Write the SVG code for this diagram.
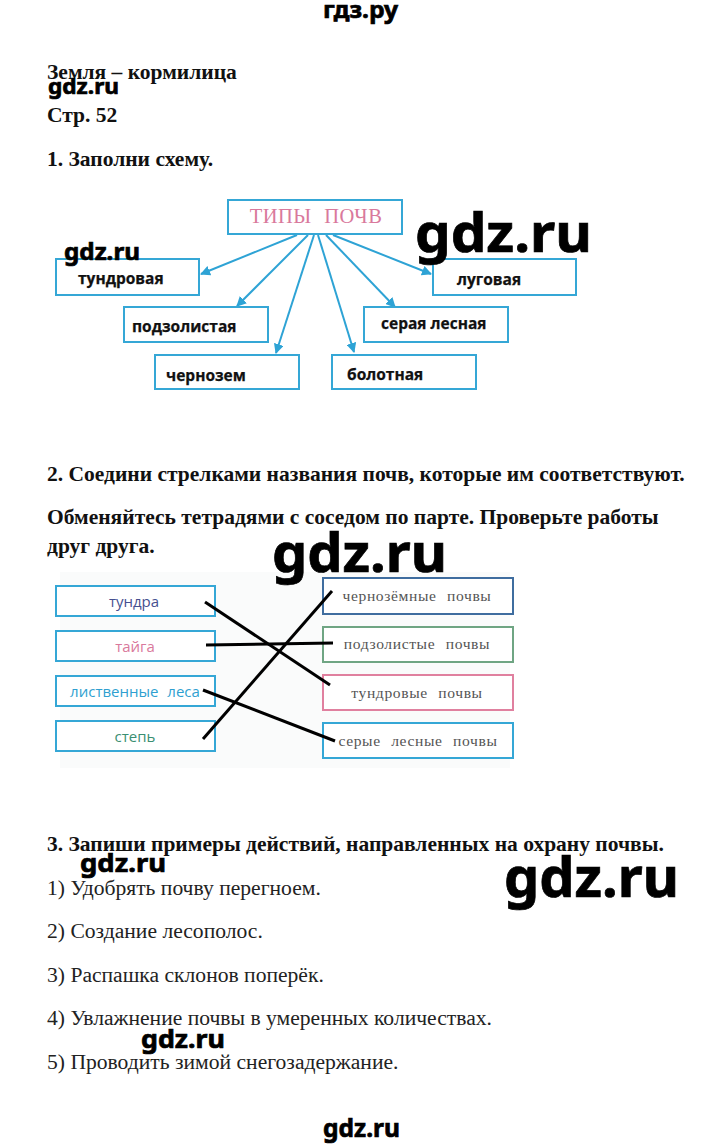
<svg xmlns="http://www.w3.org/2000/svg" width="720" height="1147" viewBox="0 0 720 1147">
<style>
.h{font:bold 21.5px "Liberation Serif",serif;fill:#111}
.p{font:21.6px "Liberation Serif",serif;fill:#222}
.w{font-family:"Noto Sans","DejaVu Sans",sans-serif;font-weight:700;fill:#000;stroke:#000;stroke-width:.7}
.b1{fill:#fff;stroke:#35a7d6;stroke-width:2}
.t1{font:bold 15.5px "Open Sans","Noto Sans",sans-serif;fill:#111;stroke:#111;stroke-width:.25}
.t2{font:15px "Open Sans","Noto Sans",sans-serif;text-anchor:middle}
.t3{font:15.6px "Liberation Serif",serif;fill:#555;text-anchor:middle;word-spacing:6px;letter-spacing:.6px}
.a{stroke:#2ea3d5;stroke-width:2;fill:none;marker-end:url(#ah)}
.l{stroke:#000;stroke-width:3;fill:none}
</style>
<defs><marker id="ah" viewBox="0 0 10 10" refX="9" refY="5" markerWidth="10" markerHeight="10" orient="auto" markerUnits="userSpaceOnUse"><path d="M0 0L10 5L0 10Z" fill="#2ea3d5"/></marker></defs>
<rect width="720" height="1147" fill="#fff"/>
<rect x="60" y="572" width="450" height="196" fill="#fafbfb"/>
<g id="page-text">
<text class="w" x="323" y="18" font-size="24" textLength="75" lengthAdjust="spacingAndGlyphs">гдз.ру</text>
<text class="h" x="47" y="79">Земля – кормилица</text>
<text class="h" x="47" y="122">Стр. 52</text>
<text class="h" x="47" y="166">1. Заполни схему.</text>
<text class="h" x="47" y="481">2. Соедини стрелками названия почв, которые им соответствуют.</text>
<text class="h" x="47" y="524">Обменяйтесь тетрадями с соседом по парте. Проверьте работы</text>
<text class="h" x="47" y="553">друг друга.</text>
<text class="h" x="47" y="851">3. Запиши примеры действий, направленных на охрану почвы.</text>
<text class="p" x="47" y="895">1) Удобрять почву перегноем.</text>
<text class="p" x="47" y="938">2) Создание лесополос.</text>
<text class="p" x="47" y="982">3) Распашка склонов поперёк.</text>
<text class="p" x="47" y="1025">4) Увлажнение почвы в умеренных количествах.</text>
<text class="p" x="47" y="1069">5) Проводить зимой снегозадержание.</text>
</g>
<g id="type-connectors">
<line class="a" x1="297" y1="235" x2="201" y2="274"/>
<line class="a" x1="308" y1="235" x2="237" y2="306"/>
<line class="a" x1="314" y1="235" x2="276" y2="353"/>
<line class="a" x1="318" y1="235" x2="354" y2="352"/>
<line class="a" x1="326" y1="235" x2="395" y2="307"/>
<line class="a" x1="333" y1="235" x2="431" y2="274"/>
</g>
<g id="types"><rect class="b1" x="228" y="200" width="174" height="34"/><text x="316" y="223" font-family="Liberation Serif,serif" font-size="20.500" fill="#d9799c" text-anchor="middle" word-spacing="7" letter-spacing=".5">ТИПЫ ПОЧВ</text></g>
<g id="tundra-type"><rect class="b1" x="56" y="259" width="143" height="36"/><text class="t1" x="78" y="284">тундровая</text></g>
<g id="meadow-type"><rect class="b1" x="433" y="259" width="143" height="36"/><text class="t1" x="457" y="285">луговая</text></g>
<g id="podzol-type"><rect class="b1" x="124" y="307" width="144" height="35"/><text class="t1" x="132" y="332">подзолистая</text></g>
<g id="grey-type"><rect class="b1" x="364" y="307" width="144" height="35"/><text class="t1" x="381" y="329">серая лесная</text></g>
<g id="chernozem-type"><rect class="b1" x="155" y="355" width="144" height="34"/><text class="t1" x="166" y="381">чернозем</text></g>
<g id="bog-type"><rect class="b1" x="332" y="355" width="144" height="34"/><text class="t1" x="347" y="380">болотная</text></g>
<g id="zone-tundra"><rect class="b1" x="56" y="586" width="159" height="30"/><text class="t2" x="134" y="607" fill="#46508f">тундра</text></g>
<g id="zone-taiga"><rect class="b1" x="56" y="631" width="159" height="30"/><text class="t2" x="135" y="652" fill="#d9799c">тайга</text></g>
<g id="zone-forest"><rect class="b1" x="56" y="676" width="159" height="30"/><text class="t2" x="135" y="697" fill="#2f9fd0" word-spacing="5">лиственные леса</text></g>
<g id="zone-steppe"><rect class="b1" x="56" y="721" width="159" height="30"/><text class="t2" x="135" y="742" fill="#3a8f72">степь</text></g>
<g id="soil-chernozem"><rect x="323" y="578" width="190" height="36" fill="#fff" stroke="#3f6d9f" stroke-width="2"/><text class="t3" x="417" y="601">чернозёмные почвы</text></g>
<g id="soil-podzol"><rect x="323" y="627" width="190" height="35" fill="#fff" stroke="#6fa583" stroke-width="2"/><text class="t3" x="417" y="649">подзолистые почвы</text></g>
<g id="soil-tundra"><rect x="323" y="675" width="190" height="35" fill="#fff" stroke="#e0809f" stroke-width="2"/><text class="t3" x="417" y="698">тундровые почвы</text></g>
<g id="soil-grey"><rect x="323" y="723" width="190" height="35" fill="#fff" stroke="#35a7d6" stroke-width="2"/><text class="t3" x="418" y="746">серые лесные почвы</text></g>
<g id="match-connectors">
<line class="l" x1="205" y1="602" x2="330" y2="685"/>
<line class="l" x1="206" y1="645" x2="333" y2="643"/>
<line class="l" x1="203" y1="690" x2="335" y2="741"/>
<line class="l" x1="203" y1="739" x2="332" y2="591"/>
</g>
<g id="watermarks">
<text class="w" x="48" y="94" font-size="22" textLength="71" lengthAdjust="spacingAndGlyphs">gdz.ru</text>
<text class="w" x="64" y="260" font-size="24" textLength="76" lengthAdjust="spacingAndGlyphs">gdz.ru</text>
<text class="w" x="415" y="252" font-size="54" textLength="177" lengthAdjust="spacingAndGlyphs">gdz.ru</text>
<text class="w" x="272" y="572" font-size="54" textLength="175" lengthAdjust="spacingAndGlyphs">gdz.ru</text>
<text class="w" x="80" y="872" font-size="25" textLength="86" lengthAdjust="spacingAndGlyphs">gdz.ru</text>
<text class="w" x="504" y="897" font-size="55" textLength="175" lengthAdjust="spacingAndGlyphs">gdz.ru</text>
<text class="w" x="141" y="1048" font-size="25" textLength="84" lengthAdjust="spacingAndGlyphs">gdz.ru</text>
<text class="w" x="323" y="1137" font-size="25" textLength="77" lengthAdjust="spacingAndGlyphs">gdz.ru</text>
</g>
</svg>
